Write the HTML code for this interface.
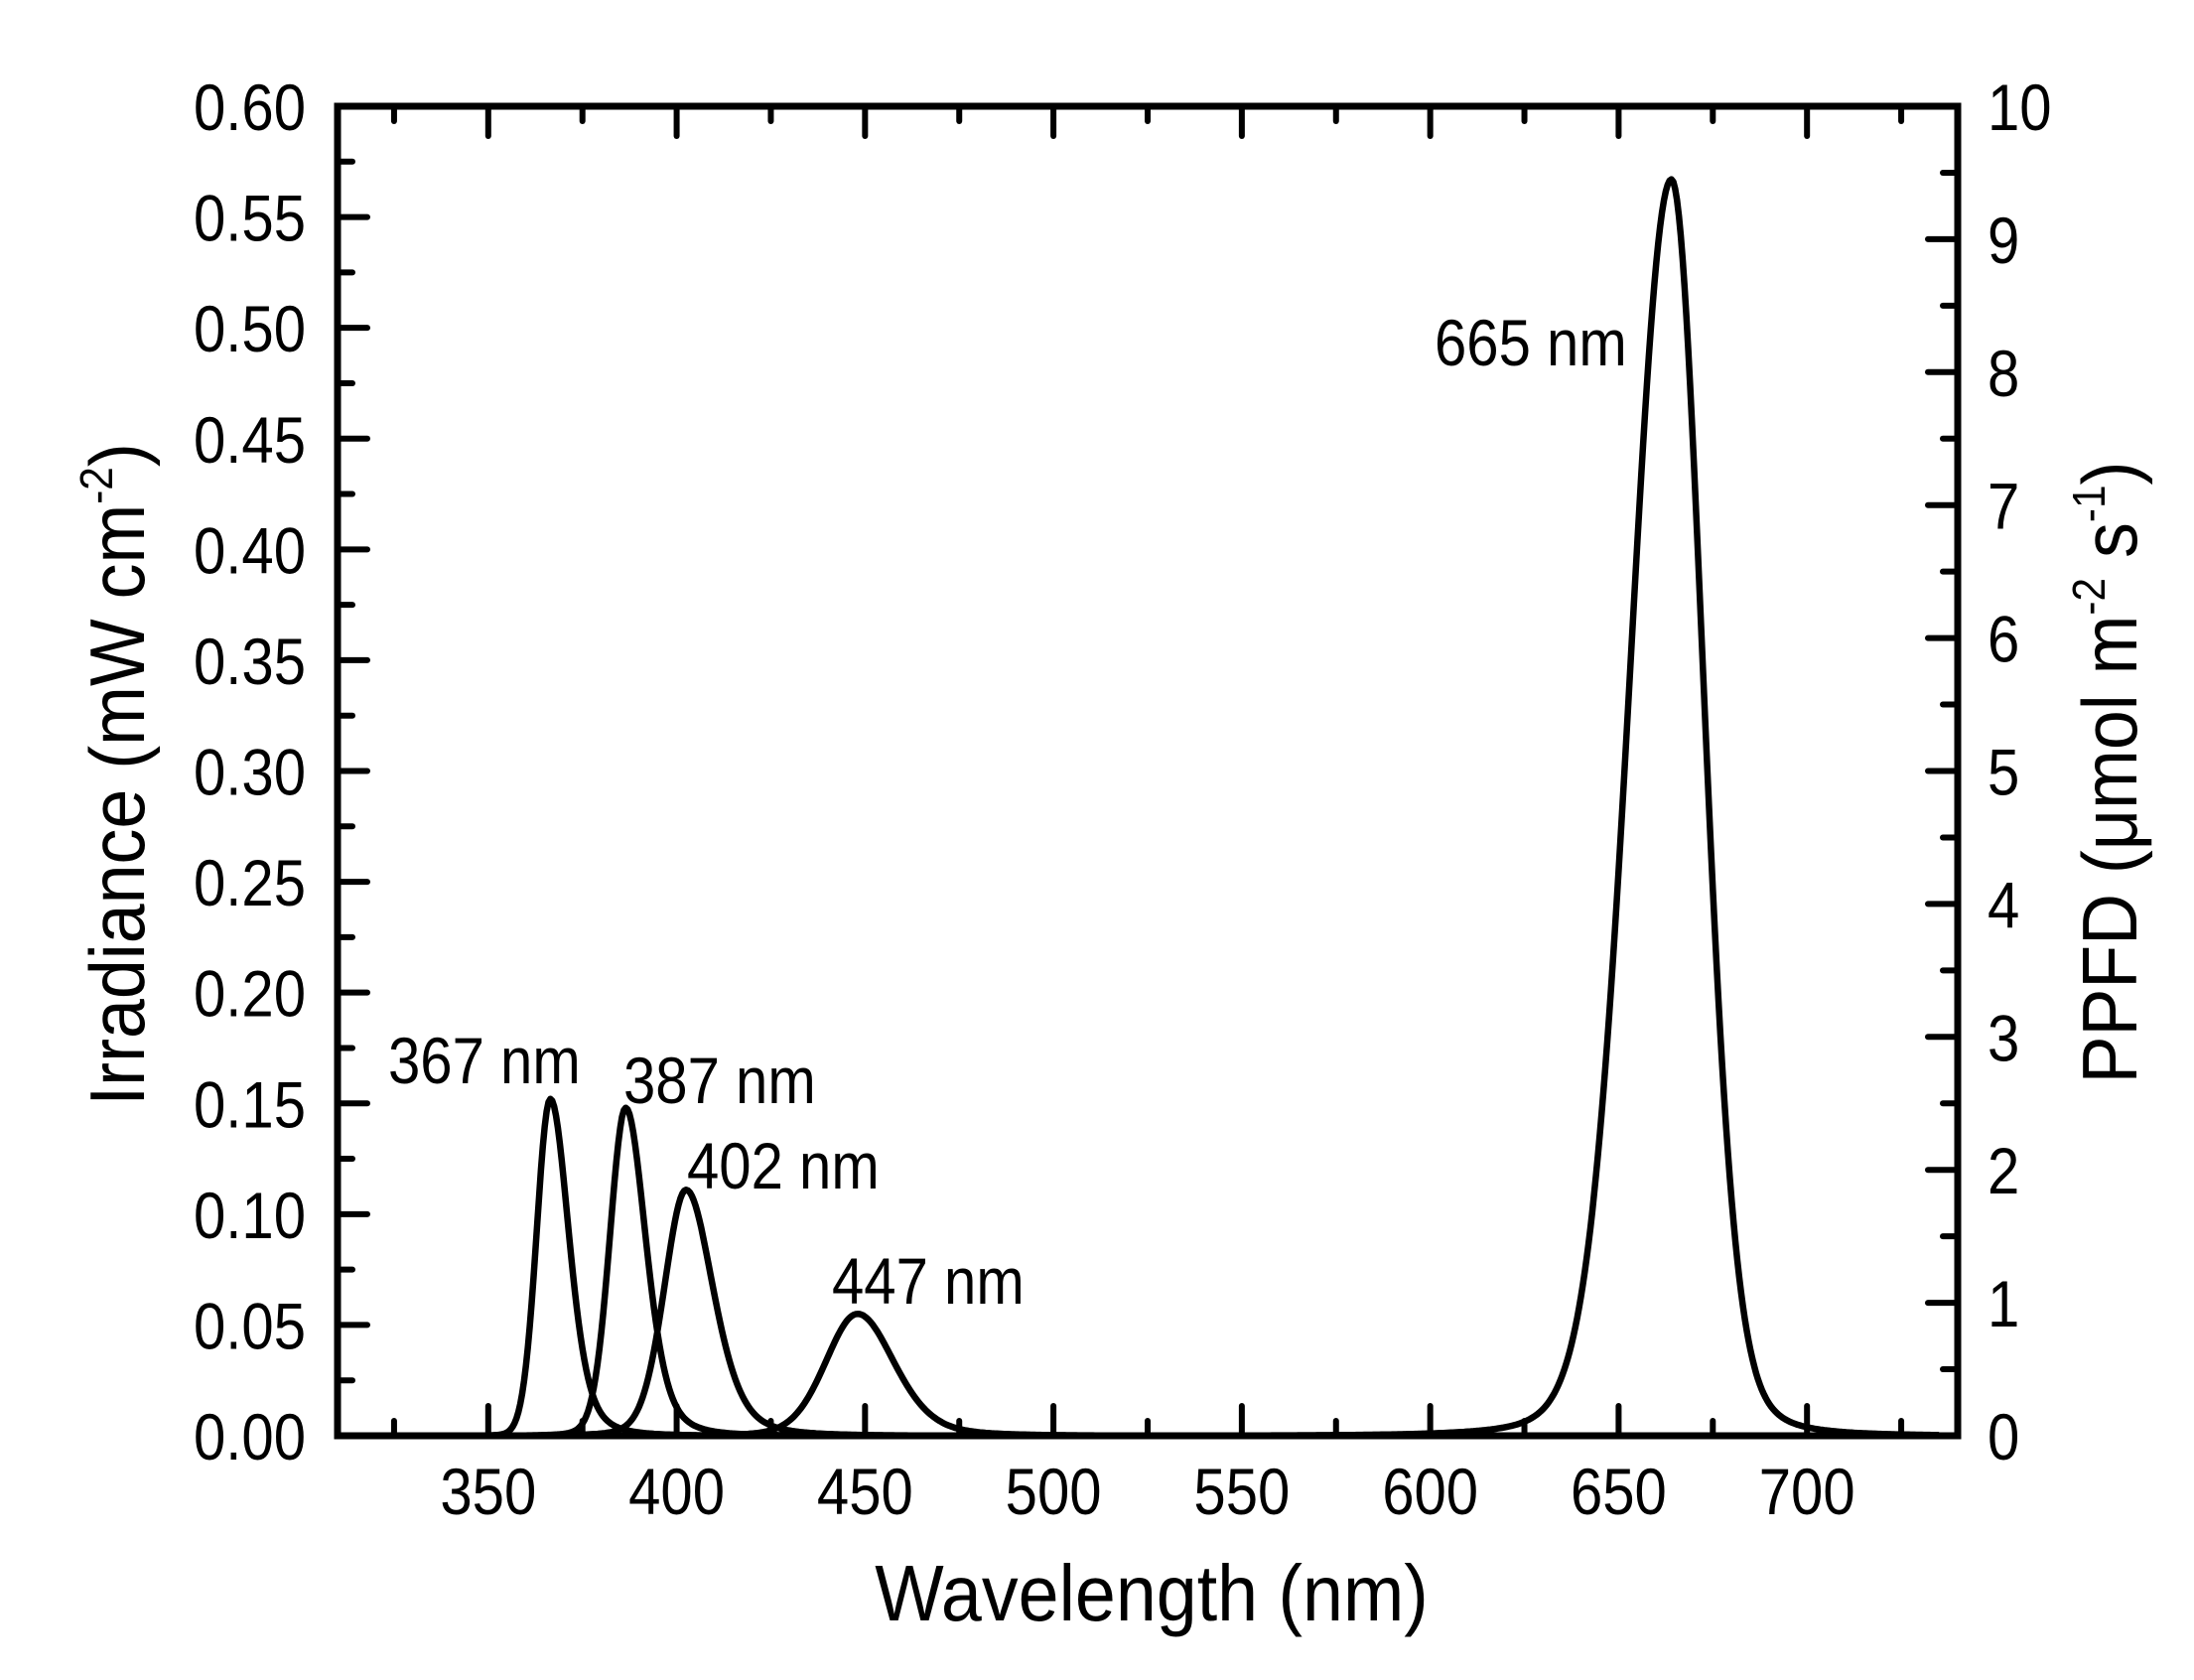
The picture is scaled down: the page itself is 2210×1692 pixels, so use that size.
<!DOCTYPE html>
<html><head><meta charset="utf-8"><style>
html,body{margin:0;padding:0;background:#fff}
svg{display:block}
text{font-family:"Liberation Sans",Arial,sans-serif;fill:#000}
</style></head><body>
<svg id="s" width="2210" height="1692" viewBox="0 0 2210 1692" xmlns="http://www.w3.org/2000/svg">
<g id="ticks" stroke="#000" stroke-width="6" stroke-linecap="round"></g>
<g id="labels" font-size="66"></g>
<path id="curves" fill="none" stroke="#000" stroke-width="6.5" stroke-linejoin="round"/>
<rect x="340" y="107" width="1632" height="1339" fill="none" stroke="#000" stroke-width="7"/>
<g font-size="66">
<text transform="translate(391,1091) scale(0.88,1)">367 nm</text>
<text transform="translate(628,1111) scale(0.88,1)">387 nm</text>
<text transform="translate(692,1197) scale(0.88,1)">402 nm</text>
<text transform="translate(838,1313) scale(0.88,1)">447 nm</text>
<text transform="translate(1445,368) scale(0.88,1)">665 nm</text>
</g>
<text transform="translate(1160,1632) scale(0.92,1)" font-size="80" text-anchor="middle">Wavelength (nm)</text>
<text transform="translate(145,780) rotate(-90) scale(0.92,1)" font-size="78" text-anchor="middle">Irradiance (mW cm<tspan font-size="46" dy="-32">-2</tspan><tspan dy="32">)</tspan></text>
<text transform="translate(2152,778) rotate(-90) scale(0.92,1)" font-size="78" text-anchor="middle">PPFD (μmol m<tspan font-size="46" dy="-32">-2</tspan><tspan dy="32"> s</tspan><tspan font-size="46" dy="-32">-1</tspan><tspan dy="32">)</tspan></text>
</svg>
<script>
var L=340,R=1972,T=107,B=1446,x0=310,x1=740;
function X(w){return L+(w-x0)/(x1-x0)*(R-L);}
function Y(v){return B-v/0.6*(B-T);}
var tk=document.getElementById('ticks'),lb=document.getElementById('labels'),NS='http://www.w3.org/2000/svg';
function line(a,b,c,d){var e=document.createElementNS(NS,'line');e.setAttribute('x1',a);e.setAttribute('y1',b);e.setAttribute('x2',c);e.setAttribute('y2',d);tk.appendChild(e);}
function txt(x,y,s,anc){var e=document.createElementNS(NS,'text');e.setAttribute('transform','translate('+x+','+y+') scale(0.88,1)');e.setAttribute('text-anchor',anc);e.textContent=s;lb.appendChild(e);}
for(var w=325;w<=725;w+=25){var x=X(w),maj=(w%50==0),l=maj?30:15;line(x,B,x,B-l);line(x,T,x,T+l);if(maj)txt(x,1525,String(w),'middle');}
for(var i=0;i<=12;i++){var v=i*0.05,y=Y(v);line(L,y,L+30,y);if(i<12)line(L,Y(v+0.025),L+15,Y(v+0.025));txt(308,y+24,v.toFixed(2),'end');}
for(var i=0;i<=10;i++){var y=B-i/10*(B-T);line(R,y,R-30,y);if(i<10)line(R,B-(i+0.5)/10*(B-T),R-15,B-(i+0.5)/10*(B-T));txt(2002,y+24,String(i),'start');}
var P=[[0.152,366.5,4.3,0.05,5.8,0.55],[0.148,386.5,5,0.15,6.3,0.55],[0.111,402.5,6.8,0.25,8.5,0.55],[0.055,448,10,0.25,11.5,0.45],[0.567,664,13,0.2,10,0.25]];
function pv(d,h,e){var r=(d/h)*(d/h);return (1-e)*Math.exp(-Math.LN2*r)+e/(1+r*r*0.15+r*0.85);}
var d='';
P.forEach(function(p){var first=true;for(var w=322;w<=735;w+=0.5){var dd=w-p[1],v=dd<0?pv(dd,p[2],p[3]):pv(dd,p[4],p[5]);v*=p[0];d+=(first?'M':'L')+X(w).toFixed(1)+' '+Y(v).toFixed(1);first=false;}});
document.getElementById('curves').setAttribute('d',d);
</script>
</body></html>
